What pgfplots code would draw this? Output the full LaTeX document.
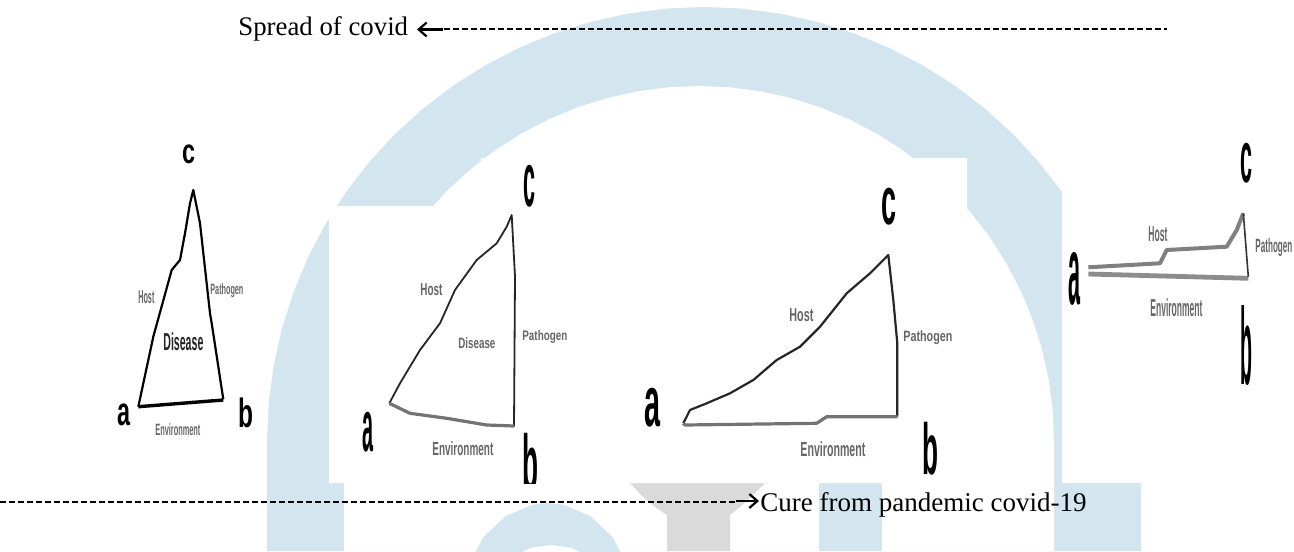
\documentclass[border=0pt]{standalone}
\usepackage{pgfplots}
\pgfplotsset{compat=1.18}
\usetikzlibrary{arrows.meta}
\usepackage{graphicx}
\usepackage{fontspec}
\setmainfont{Liberation Serif}
\setsansfont{Liberation Sans}
\definecolor{wmblue}{RGB}{211,230,240}
\definecolor{wmgrey}{RGB}{218,218,218}
\newcommand{\lab}[3]{\resizebox*{#1pt}{#2pt}{\sffamily\bfseries #3}}
\begin{document}
\begin{tikzpicture}
\begin{axis}[
  scale only axis, width=647pt, height=275.5pt,
  xmin=0, xmax=1294, ymin=0, ymax=551, y dir=reverse,
  axis lines=none, clip=true,
]
% page background
\addplot[fill=white, draw=none] coordinates {(0,0) (1294,0) (1294,551) (0,551)} -- cycle;
% watermark: big arch
\addplot[fill=wmblue, draw=none] coordinates {
(267,551) (267,441) (268.7,403.2) (273.6,365.7) (281.9,328.7) (293.4,292.6) (307.9,257.6)
(325.6,224) (346,192.1) (369.3,162) (395,134.1) (423.1,108.6) (453.3,85.5)
(485.5,65.2) (519.3,47.7) (554.5,33.2) (590.9,21.8) (628.1,13.6) (665.9,8.6) (704,7)
(742.1,8.6) (779.9,13.6) (817.1,21.8) (853.5,33.2) (888.7,47.7) (922.5,65.2) (954.7,85.5)
(984.9,108.6) (1013,134.1) (1038.7,162) (1062,192.1) (1082.4,224) (1100.1,257.6)
(1114.6,292.6) (1126.1,328.7) (1134.4,365.7) (1139.3,403.2) (1141,441) (1141,551)} -- cycle;
\addplot[fill=white, draw=none] coordinates {
(344,551) (344,441) (345.3,410) (349.4,379.4) (356.1,349.1) (365.4,319.6) (377.3,291)
(391.6,263.5) (408.2,237.4) (427.1,212.8) (448,190) (470.8,169.1) (495.4,150.2)
(521.5,133.6) (549,119.3) (577.6,107.4) (607.1,98.1) (637.4,91.4) (668,87.3) (699,86)
(730,87.3) (760.6,91.4) (790.9,98.1) (820.4,107.4) (849,119.3) (876.5,133.6) (902.6,150.2)
(927.2,169.1) (950,190) (970.9,212.8) (989.8,237.4) (1006.4,263.5) (1020.7,291)
(1032.6,319.6) (1041.9,349.1) (1048.6,379.4) (1052.7,410) (1054,441) (1054,551)} -- cycle;
% watermark: ring
\addplot[fill=wmblue, draw=none] coordinates {
(463,600) (468.1,566.8) (482.9,537.6) (505.5,516) (533.2,504.5) (548,503) (562.8,504.5)
(590.5,516) (613.1,537.6) (627.9,566.8) (633,600)} -- cycle;
\addplot[fill=white, draw=none] coordinates {
(511,565) (516.4,555) (531,547.7) (551,545) (571,547.7) (585.6,555) (591,565) (591,600) (511,600)} -- cycle;
% watermark: grey funnel
\addplot[fill=wmgrey, draw=none] coordinates {
(630,470) (765,470) (765,483) (752,496) (740,507) (730,515) (730,551) (667,551) (667,515)
(655,507) (641,495) (630,483)} -- cycle;
% watermark: blue bar
\addplot[fill=wmblue, draw=none] coordinates {(819,470) (882,470) (882,551) (819,551)} -- cycle;
% white picture backgrounds
\addplot[fill=white, draw=none] coordinates {(329,483) (329,206) (481,206) (481,158) (967,158) (967,483)} -- cycle;
\addplot[fill=white, draw=none] coordinates {(1062,140) (1294,140) (1294,483) (1062,483)} -- cycle;

% ---------- triangle 1 ----------
\addplot[black, line width=1.1pt, line join=round] coordinates {
(138.3,406.7) (153.3,336.7) (171.7,270) (180,260) (185,233.3) (190,203.3) (193.3,190)
(200,223.3) (210,313.3) (211.7,323.3) (223.3,399.3)};
\addplot[black, line width=1.7pt] coordinates {(223.3,400) (138.3,406.7)};
% ---------- triangle 2 ----------
\addplot[black!85, line width=0.9pt, line join=round] coordinates {
(389.3,403.3) (400,383.3) (420,350) (440,323.3) (455,290) (476.7,260) (496.7,243.3)
(506.7,226.7) (511.7,215) (515,276.7) (514,426.7)};
\addplot[black!55, line width=1.6pt, line join=round] coordinates {
(514,426) (486.7,425) (446.7,418.3) (410,413.3) (389.3,403.3)};
% ---------- triangle 3 ----------
\addplot[black!85, line width=1.1pt, line join=round] coordinates {
(683.3,423.3) (690,410) (706.7,403.3) (730,393.3) (753.3,380) (776.7,360) (800,346.7)
(820,326.7) (846.7,293.3) (870,273.3) (888.3,255) (893.3,300) (897.3,343.3) (897.3,416.7)};
\addplot[black!55, line width=1.6pt, line join=round] coordinates {
(897.3,416.7) (826.7,416.7) (816.7,423.3) (685,425) (683.3,423.3)};
% ---------- triangle 4 ----------
\addplot[black!50, line width=2pt, line join=round] coordinates {
(1088.3,267.3) (1160,263.3) (1166.7,250) (1226.7,246.7) (1236.7,230) (1243.3,213.3)};
\addplot[black!45, line width=2.4pt] coordinates {(1088.3,274) (1248.3,278.3)};
\addplot[black!80, line width=0.8pt] coordinates {(1243.3,213.3) (1248.3,276.7)};

% ---------- vertex letters ----------
\node[anchor=north west, inner sep=0] at (axis cs:182,144) {\lab{6.5}{9.5}{c}};
\node[anchor=north west, inner sep=0] at (axis cs:117,403) {\lab{6.5}{11}{a}};
\node[anchor=north west, inner sep=0] at (axis cs:238,397) {\lab{7.5}{15}{b}};
\node[anchor=north west, inner sep=0] at (axis cs:523,165) {\lab{6}{21}{c}};
\node[anchor=north west, inner sep=0] at (axis cs:362,412) {\lab{5.5}{20}{a}};
\begin{scope}
\clip (axis cs:500,420) rectangle (axis cs:560,483);
\node[anchor=north west, inner sep=0] at (axis cs:522,433) {\lab{8}{29}{b}};
\end{scope}
\node[anchor=north west, inner sep=0] at (axis cs:881,188) {\lab{7.5}{18.5}{c}};
\node[anchor=north west, inner sep=0] at (axis cs:644,388) {\lab{8}{19.5}{a}};
\node[anchor=north west, inner sep=0] at (axis cs:922,422) {\lab{8}{26.5}{b}};
\node[anchor=north west, inner sep=0] at (axis cs:1240,143) {\lab{6}{20}{c}};
\node[anchor=north west, inner sep=0] at (axis cs:1068,252) {\lab{6}{26.5}{a}};
\node[anchor=north west, inner sep=0] at (axis cs:1240,305) {\lab{6}{40}{b}};

% ---------- small labels ----------
\begin{scope}[every node/.style={anchor=north west, inner sep=0, text=black!60}]
\node at (axis cs:138,290) {\lab{8}{6.5}{Host}};
\node at (axis cs:210,283) {\lab{16.5}{7}{Pathogen}};
\node[text=black!85] at (axis cs:163,332) {\lab{20}{9}{Disease}};
\node at (axis cs:155,423) {\lab{22.5}{6}{Environment}};
\node at (axis cs:420,283) {\lab{11}{6}{Host}};
\node at (axis cs:458,337) {\lab{18.5}{5.5}{Disease}};
\node at (axis cs:522,330) {\lab{22.5}{6.5}{Pathogen}};
\node at (axis cs:432,441) {\lab{30.5}{7}{Environment}};
\node at (axis cs:789,308) {\lab{12}{6.5}{Host}};
\node at (axis cs:903,330) {\lab{24.5}{7}{Pathogen}};
\node at (axis cs:800,441) {\lab{32.5}{7.5}{Environment}};
\node at (axis cs:1148,226) {\lab{9.5}{7.5}{Host}};
\node at (axis cs:1255,238) {\lab{18.5}{9}{Pathogen}};
\node at (axis cs:1150,298) {\lab{26}{9}{Environment}};
\end{scope}

% ---------- dashed timelines with arrows ----------
\addplot[black, line width=1pt, dash pattern=on 3pt off 1.5pt] coordinates {(444,29.5) (1167,29.5)};
\addplot[black, line width=1.1pt, -{Straight Barb[length=4pt,width=7pt,line width=1.1pt]}] coordinates {(443,29.5) (417,29.5)};
\addplot[black, line width=1pt, dash pattern=on 3pt off 1.5pt] coordinates {(0,502) (735,502)};
\addplot[black, line width=1.1pt, -{Straight Barb[length=4pt,width=7pt,line width=1.1pt]}] coordinates {(736,501) (759,501)};
\node[anchor=base west, inner sep=0, font=\fontsize{13.4}{16}\selectfont] at (axis cs:238,36) {Spread of covid};
\node[anchor=base west, inner sep=0, font=\fontsize{13.5}{16}\selectfont] at (axis cs:760,511) {Cure from pandemic covid-19};
\end{axis}
\end{tikzpicture}
\end{document}
